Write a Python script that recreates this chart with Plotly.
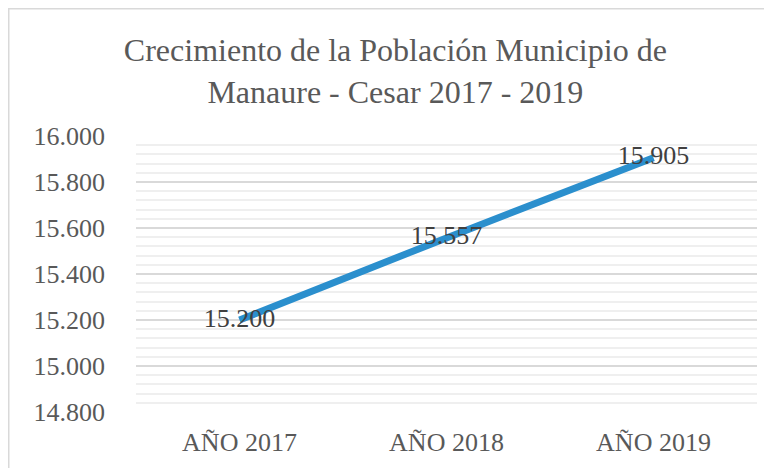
import plotly.graph_objects as go

years = ["AÑO 2017", "AÑO 2018", "AÑO 2019"]
population = [15200, 15557, 15905]

y_ticks = [14800, 15000, 15200, 15400, 15600, 15800, 16000]

FONT = "Liberation Serif, DejaVu Serif, serif"
GRAY = "#595959"

# the page puts the figure 8px in from the top-left corner
FIG_W, FIG_H = 764, 460
L, R, T, B = 128, 15, 128, 56
W, H = FIG_W - L - R, FIG_H - T - B


def px_x(p):
    return (p - L) / W


def px_y(p):
    return (FIG_H - B - p) / H


fig = go.Figure()
fig.add_trace(go.Scatter(
    x=years, y=population,
    mode="lines+text",
    line=dict(color="#2B8FCD", width=7),
    texttemplate="%{y:,.0f}",
    textposition="middle center",
    textfont=dict(family=FONT, size=26, color="#404040"),
    hoverinfo="skip",
    cliponaxis=False,
))

fig.update_layout(
    width=FIG_W, height=FIG_H,
    margin=dict(l=L, r=R, t=T, b=B),
    paper_bgcolor="white", plot_bgcolor="white",
    separators=",.",
    showlegend=False,
    title=dict(
        text="Crecimiento de la Población Municipio de<br>Manaure - Cesar 2017 - 2019",
        font=dict(family=FONT, size=32, color=GRAY),
        x=0.507, xanchor="center", y=0.885, yanchor="top",
    ),
    xaxis=dict(
        type="category", range=[-0.5, 2.5],
        showgrid=False, zeroline=False, showline=False, ticks="",
        ticklabelstandoff=12,
        tickfont=dict(family=FONT, size=26, color=GRAY),
    ),
    yaxis=dict(
        range=[14800, 16000],
        tickvals=y_ticks, tickformat=",.0f",
        showgrid=True, gridcolor="#d9d9d9", gridwidth=1.5,
        minor=dict(dtick=40, showgrid=True, gridcolor="#efefef", gridwidth=1.5),
        zeroline=False, showline=False, ticks="",
        ticklabelstandoff=30,
        tickfont=dict(family=FONT, size=26, color=GRAY),
    ),
    shapes=[
        dict(type="rect", xref="paper", yref="paper",
             x0=px_x(0.75), x1=px_x(FIG_W + 20), y0=px_y(FIG_H + 20), y1=px_y(0.75),
             fillcolor="rgba(0,0,0,0)", line=dict(color="#d9d9d9", width=1.5),
             layer="below"),
    ],
)

fig.write_html("out.html")
